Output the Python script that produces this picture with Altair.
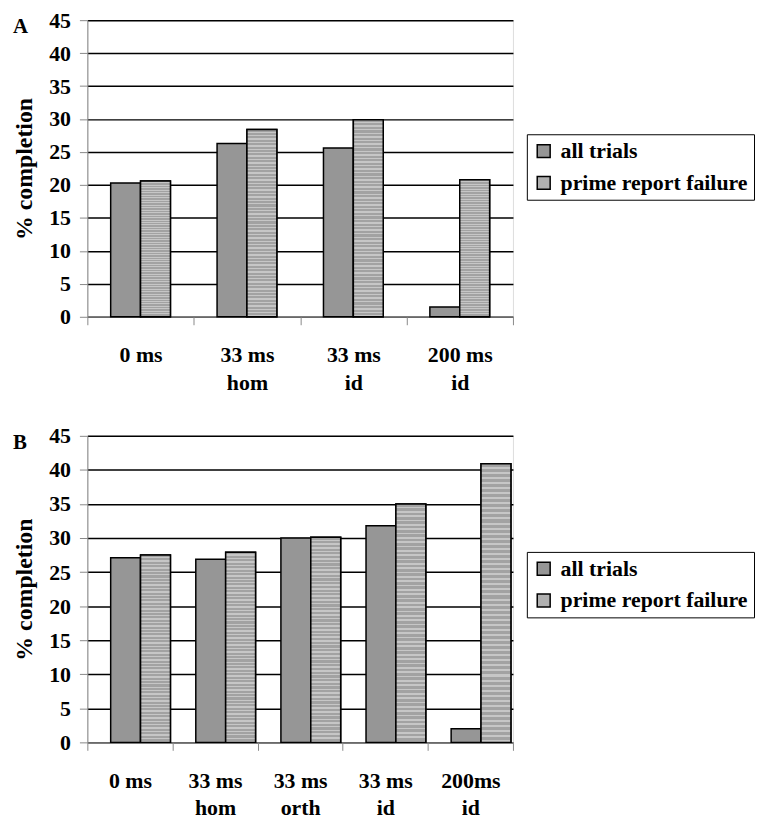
import altair as alt
import pandas as pd

FONT = "Liberation Serif"
SERIES = ["all trials", "prime report failure"]

cats_a = ["0 ms", "33 ms|hom", "33 ms|id", "200 ms|id"]
all_a = [20.3, 26.3, 25.6, 1.5]
prime_a = [20.6, 28.4, 29.9, 20.8]

cats_b = ["0 ms", "33 ms|hom", "33 ms|orth", "33 ms|id", "200ms|id"]
all_b = [27.1, 26.9, 30.0, 31.8, 2.0]
prime_b = [27.5, 27.9, 30.1, 35.0, 40.9]

y_ticks = list(range(0, 46, 5))

# horizontal-stripe texture for the "prime report failure" bars
STRIPES = 55
stops = []
for i in range(STRIPES):
    o0 = i / STRIPES
    o1 = (i + 0.6) / STRIPES
    o2 = (i + 1) / STRIPES
    stops += [
        alt.GradientStop(offset=o0, color="#a2a2a2"),
        alt.GradientStop(offset=o1, color="#a2a2a2"),
        alt.GradientStop(offset=o1, color="#c6c6c6"),
        alt.GradientStop(offset=o2, color="#c6c6c6"),
    ]
STRIPE_FILL = alt.Gradient(gradient="linear", stops=stops, x1=0, x2=0, y1=0, y2=1)


def panel(letter, cats, allv, primev, h, legend_y):
    rows = []
    for c, a, p in zip(cats, allv, primev):
        rows.append({"cond": c, "series": SERIES[0], "value": a})
        rows.append({"cond": c, "series": SERIES[1], "value": p})
    df = pd.DataFrame(rows)
    x_enc = alt.X(
        "cond:N", sort=cats,
        scale=alt.Scale(paddingInner=0, paddingOuter=0),
        axis=alt.Axis(
            title=None, labelAngle=0, tickBand="extent",
            labelExpr="isValid(datum.value) ? split(datum.value, '|') : ''",
            labelPadding=20, labelLineHeight=28, tickSize=8,
            labelFont=FONT, labelFontSize=22, labelFontWeight="bold",
            labelColor="black",
        ),
    )
    xo_enc = alt.XOffset(
        "series:N", sort=SERIES,
        scale=alt.Scale(paddingInner=0, paddingOuter=0.78),
    )
    y_enc = alt.Y(
        "value:Q", scale=alt.Scale(domain=[0, 45], nice=False),
        axis=alt.Axis(
            values=y_ticks, title="% completion", grid=True,
            gridColor="black", gridWidth=1.5, tickSize=8,
            labelFont=FONT, labelFontSize=22, labelFontWeight="bold",
            labelColor="black", labelPadding=9,
            titleFont=FONT, titleFontSize=24, titleFontWeight="bold",
            titleColor="black", titlePadding=12,
        ),
    )
    bars = alt.Chart(df).mark_bar(
        stroke="black", strokeWidth=1.5
    ).encode(
        x=x_enc, xOffset=xo_enc, y=y_enc,
        color=alt.Color(
            "series:N",
            scale=alt.Scale(domain=SERIES, range=["#969696", "#b0b0b0"]),
            legend=alt.Legend(
                title=None, orient="none", legendX=443, legendY=legend_y,
                strokeColor="black", padding=6, labelFont=FONT,
                labelFontSize=22, labelFontWeight="bold", labelColor="black",
                symbolType="square", symbolSize=170, symbolStrokeColor="black",
                symbolStrokeWidth=1.5, rowPadding=10, labelOffset=6,
                labelLimit=300,
            ),
        ),
    )
    striped = alt.Chart(df).transform_filter(
        alt.datum.series == SERIES[1]
    ).mark_bar(
        stroke="black", strokeWidth=1.5, fill=STRIPE_FILL
    ).encode(x=x_enc, xOffset=xo_enc, y=y_enc)
    tag = alt.Chart(pd.DataFrame({"t": [letter]})).mark_text(
        font=FONT, fontSize=21, fontWeight="bold", color="black",
        align="left", baseline="top",
    ).encode(text="t:N", x=alt.value(-75), y=alt.value(-4))
    return alt.layer(bars, striped, tag).properties(width=429, height=h)


chart = alt.vconcat(
    panel("A", cats_a, all_a, prime_a, 299, 115),
    panel("B", cats_b, all_b, prime_b, 309, 117),
    spacing=30,
).resolve_legend(color="independent").resolve_scale(
    color="independent", x="independent"
).properties(
    padding={"top": -3, "left": 4, "right": 0, "bottom": 0}
).configure_view(
    stroke="black", strokeWidth=1.5
).configure_axis(
    domainColor="black", domainWidth=1.5, tickColor="black", tickWidth=1.5
).configure(background="white")

chart.save("out.html", embed_options={"renderer": "svg", "actions": False})
